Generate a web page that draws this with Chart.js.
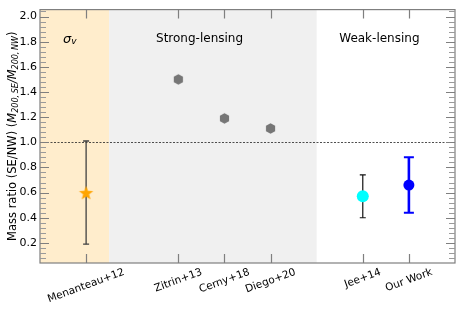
<!DOCTYPE html>
<html><head><meta charset="utf-8">
<script src="https://cdn.jsdelivr.net/npm/chart.js@4/dist/chart.umd.min.js"></script>
<style>html,body{margin:0;padding:0;background:#fff}#wrap{width:463px;height:309px;position:relative}</style>
</head><body><div id="wrap"><canvas id="c"></canvas></div>
<script>
// ---- data ----
const categories = ["Menanteau+12", "Zitrin+13", "Cerny+18", "Diego+20", "Jee+14", "Our Work"];
const positions  = [0, 2, 3, 4, 6, 7];
const ratios     = [0.60, 1.50, 1.19, 1.11, 0.57, 0.66];
const errLow     = [0.41, null, null, null, 0.17, 0.22];
const errHigh    = [0.41, null, null, null, 0.17, 0.22];
const yTickValues = [0.2, 0.4, 0.6, 0.8, 1.0, 1.2, 1.4, 1.6, 1.8, 2.0];
const bandEdges  = [-1, 0.5, 5, 8];
const bandLabels = ["σ", "Strong-lensing", "Weak-lensing"];
const referenceRatio = 1.0;

const FONT = "'DejaVu Sans', sans-serif";

function pts(idx) { return idx.map(i => ({x: positions[i], y: ratios[i]})); }

function makeStar(r, color) {
  const c = document.createElement('canvas');
  c.width = c.height = Math.ceil(2 * r + 2);
  const g = c.getContext('2d');
  const cx = c.width / 2, cy = c.height / 2 + r * 0.1;
  g.beginPath();
  for (let k = 0; k < 10; k++) {
    const rr = k % 2 === 0 ? r : r * 0.42;
    const a = -Math.PI / 2 + k * Math.PI / 5;
    const px = cx + rr * Math.cos(a), py = cy + rr * Math.sin(a);
    k === 0 ? g.moveTo(px, py) : g.lineTo(px, py);
  }
  g.closePath();
  g.fillStyle = color; g.fill();
  return c;
}
function makeHex(r, color) {
  const c = document.createElement('canvas');
  c.width = c.height = Math.ceil(2 * r + 2);
  const g = c.getContext('2d');
  const cx = c.width / 2, cy = c.height / 2;
  g.beginPath();
  for (let k = 0; k < 6; k++) {
    const a = -Math.PI / 2 + k * Math.PI / 3;
    const px = cx + r * Math.cos(a), py = cy + r * Math.sin(a);
    k === 0 ? g.moveTo(px, py) : g.lineTo(px, py);
  }
  g.closePath();
  g.fillStyle = color; g.fill();
  return c;
}

const errStyles = {0: {color: '#404040', width: 1.3, cap: 3}, 4: {color: '#111', width: 1.2, cap: 3}, 5: {color: '#0000ff', width: 2.6, cap: 5}};

const deco = {
  id: 'deco',
  beforeDatasetsDraw(chart) {
    const {ctx, chartArea: a, scales: {x, y}} = chart;
    ctx.save();
    const bandColors = ['#ffedcc', '#f0f0f0', null];
    for (let i = 0; i < 3; i++) {
      if (!bandColors[i]) continue;
      const x0 = x.getPixelForValue(bandEdges[i]), x1 = x.getPixelForValue(bandEdges[i + 1]);
      ctx.fillStyle = bandColors[i];
      ctx.fillRect(x0, a.top, x1 - x0, a.bottom - a.top);
    }
    // reference line
    const yr = Math.round(y.getPixelForValue(referenceRatio)) + 0.5;
    ctx.strokeStyle = '#222'; ctx.lineWidth = 0.8; ctx.setLineDash([2, 1.5]);
    ctx.beginPath(); ctx.moveTo(a.left, yr); ctx.lineTo(a.right, yr); ctx.stroke();
    ctx.setLineDash([]);
    // error bars
    for (let i = 0; i < positions.length; i++) {
      if (errLow[i] == null) continue;
      const s = errStyles[i];
      const px = x.getPixelForValue(positions[i]);
      const yt = y.getPixelForValue(ratios[i] + errHigh[i]);
      const yb = y.getPixelForValue(ratios[i] - errLow[i]);
      ctx.strokeStyle = s.color; ctx.lineWidth = s.width;
      ctx.beginPath(); ctx.moveTo(px, yt); ctx.lineTo(px, yb); ctx.stroke();
      ctx.lineWidth = Math.min(s.width, 2);
      ctx.beginPath();
      ctx.moveTo(px - s.cap, yt); ctx.lineTo(px + s.cap, yt);
      ctx.moveTo(px - s.cap, yb); ctx.lineTo(px + s.cap, yb);
      ctx.stroke();
    }
    ctx.restore();
  },
  afterDraw(chart) {
    const {ctx, chartArea: a, scales: {x, y}} = chart;
    ctx.save();
    // frame
    ctx.strokeStyle = '#7f7f7f'; ctx.lineWidth = 1.2;
    ctx.strokeRect(a.left, a.top, a.right - a.left, a.bottom - a.top);
    // y ticks (inward, both sides)
    ctx.lineWidth = 1.2;
    for (let v = 0.08; v <= 2.05; v += 0.04) {
      const vv = Math.round(v * 100) / 100;
      const major = Math.abs(vv * 5 - Math.round(vv * 5)) < 1e-6;
      const len = major ? 9 : 6;
      const py = Math.round(y.getPixelForValue(vv)) + 0.5;
      ctx.strokeStyle = major ? '#7f7f7f' : '#9a9a9a';
      ctx.beginPath();
      ctx.moveTo(a.left, py); ctx.lineTo(a.left + len, py);
      ctx.moveTo(a.right, py); ctx.lineTo(a.right - len, py);
      ctx.stroke();
    }
    // x ticks (inward, top & bottom)
    ctx.strokeStyle = '#7f7f7f';
    positions.forEach(p => {
      const px = Math.round(x.getPixelForValue(p)) + 0.5;
      ctx.beginPath();
      ctx.moveTo(px, a.bottom); ctx.lineTo(px, a.bottom - 9);
      ctx.moveTo(px, a.top); ctx.lineTo(px, a.top + 9);
      ctx.stroke();
    });
    // x tick labels, rotated 20deg, centred on tick
    ctx.fillStyle = '#000';
    ctx.font = '10.5px ' + FONT;
    const rot = 20 * Math.PI / 180;
    categories.forEach((lab, i) => {
      const w = ctx.measureText(lab).width, h = 10.5;
      const bh = w * Math.sin(rot) + h * Math.cos(rot);
      const px = x.getPixelForValue(positions[i]);
      ctx.save();
      ctx.translate(px, a.bottom + 4 + bh / 2);
      ctx.rotate(-rot);
      ctx.textAlign = 'center'; ctx.textBaseline = 'middle';
      ctx.fillText(lab, 0, 0);
      ctx.restore();
    });
    // band labels
    const ly = y.getPixelForValue(1.82);
    ctx.textBaseline = 'middle'; ctx.textAlign = 'center';
    ctx.font = '12px ' + FONT;
    ctx.fillText(bandLabels[1], x.getPixelForValue(2.46), ly);
    ctx.fillText(bandLabels[2], x.getPixelForValue(6.36), ly);
    // sigma_v
    const sx = x.getPixelForValue(-0.37);
    ctx.font = 'italic 13px ' + FONT;
    ctx.textAlign = 'left';
    ctx.fillText(bandLabels[0], sx - 6, ly);
    const sw = ctx.measureText(bandLabels[0]).width;
    ctx.font = 'italic 9px ' + FONT;
    ctx.fillText('v', sx - 6 + sw, ly + 3);
    // y-axis title with subscripts
    const segs = [
      ['Mass ratio (SE/NW) (', '11.5px', 0],
      ['M', 'italic 11.5px', 0],
      ['200,\u2009SE', 'italic 8px', 3],
      ['/', 'italic 11.5px', 0],
      ['M', 'italic 11.5px', 0],
      ['200,\u2009NW', 'italic 8px', 3],
      [')', '11.5px', 0]
    ];
    let total = 0;
    segs.forEach(s => { ctx.font = s[1] + ' ' + FONT; s.w = ctx.measureText(s[0]).width; total += s.w; });
    ctx.save();
    ctx.translate(13, (a.top + a.bottom) / 2);
    ctx.rotate(-Math.PI / 2);
    ctx.textAlign = 'left'; ctx.textBaseline = 'middle';
    let cx = -total / 2;
    segs.forEach(s => { ctx.font = s[1] + ' ' + FONT; ctx.fillText(s[0], cx, s[2]); cx += s.w; });
    ctx.restore();
    ctx.restore();
  }
};

new Chart(document.getElementById('c'), {
  type: 'scatter',
  data: {
    datasets: [
      {data: pts([0]), pointStyle: makeStar(7.5, '#ffa500'), pointRadius: 7},
      {data: pts([1, 2, 3]), pointStyle: makeHex(5.3, '#767676'), pointRadius: 5},
      {data: pts([4]), pointStyle: 'circle', pointRadius: 6, backgroundColor: '#00ffff', borderColor: '#00ffff', borderWidth: 0},
      {data: pts([5]), pointStyle: 'circle', pointRadius: 5.5, backgroundColor: '#0000ff', borderColor: '#0000ff', borderWidth: 0}
    ]
  },
  plugins: [deco],
  options: {
    responsive: true, maintainAspectRatio: false, animation: false,
    layout: {padding: {top: 5, right: 6, left: 0, bottom: 0}},
    plugins: {legend: {display: false}, tooltip: {enabled: false}},
    scales: {
      x: {
        type: 'linear', min: bandEdges[0], max: bandEdges[3],
        grid: {display: false, drawTicks: false}, border: {display: false},
        ticks: {display: false},
        afterFit(s) { s.height = 46; }
      },
      y: {
        type: 'linear', min: 0.04, max: 2.055,
        grid: {display: false, drawTicks: false}, border: {display: false},
        afterBuildTicks(s) { s.ticks = yTickValues.map(v => ({value: v})); },
        ticks: {color: '#000', padding: 3, font: {family: FONT, size: 11}, callback: v => v.toFixed(1)},
        afterFit(s) { s.width = 40; }
      }
    }
  }
});
</script></body></html>
